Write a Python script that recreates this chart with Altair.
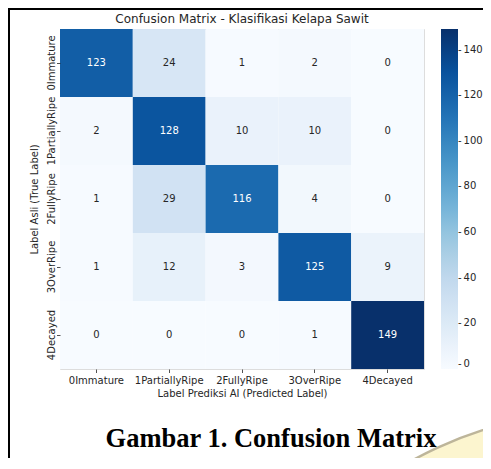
import altair as alt
import pandas as pd
import numpy as np

labels = ["0Immature", "1PartiallyRipe", "2FullyRipe", "3OverRipe", "4Decayed"]
row_0 = [123, 24, 1, 2, 0]
row_1 = [2, 128, 10, 10, 0]
row_2 = [1, 29, 116, 4, 0]
row_3 = [1, 12, 3, 125, 9]
row_4 = [0, 0, 0, 1, 149]
cbar_ticks = [0, 20, 40, 60, 80, 100, 120, 140]
blues = ["#f7fbff", "#deebf7", "#c6dbef", "#9ecae1", "#6baed6",
         "#4292c6", "#2171b5", "#08519c", "#08306b"]
title_text = "Confusion Matrix - Klasifikasi Kelapa Sawit"
caption_text = "Gambar 1. Confusion Matrix"

rows = [row_0, row_1, row_2, row_3, row_4]
records = []
for i, t in enumerate(labels):
    for j, p in enumerate(labels):
        records.append({"true": t, "pred": p, "value": rows[i][j]})
df = pd.DataFrame(records)

vmax = max(max(r) for r in rows)
domain = [float(v) for v in np.linspace(0, vmax, len(blues))]

W, H = 364, 340
PAD = {"left": 52, "top": 21, "right": 59, "bottom": 89}
TXT = "#262626"
FONT = "DejaVu Sans"

x_enc = alt.X("pred:N", sort=labels, title="Label Prediksi AI (Predicted Label)",
              axis=alt.Axis(labelAngle=0, domain=False, grid=False, tickSize=3.5,
                            tickColor=TXT, tickWidth=0.8, labelPadding=3,
                            labelFontSize=10, labelColor=TXT, labelFont=FONT,
                            titleFontSize=10, titleFontWeight="normal", titleColor=TXT,
                            titleFont=FONT, titlePadding=3))
y_enc = alt.Y("true:N", sort=labels, title="Label Asli (True Label)",
              axis=alt.Axis(labelAngle=270, labelAlign="center", labelBaseline="bottom",
                            domain=False, grid=False, tickSize=3.5,
                            tickColor=TXT, tickWidth=0.8, labelPadding=0.5,
                            labelFontSize=10, labelColor=TXT, labelFont=FONT,
                            titleFontSize=10, titleFontWeight="normal", titleColor=TXT,
                            titleFont=FONT, titlePadding=7))

base = alt.Chart(df)
heat = base.mark_rect().encode(
    x=x_enc,
    y=y_enc,
    color=alt.Color("value:Q",
                    scale=alt.Scale(domain=domain, range=blues, interpolate="rgb"),
                    legend=alt.Legend(orient="none", legendX=381, legendY=0,
                                      direction="vertical", gradientLength=H,
                                      gradientThickness=17, gradientStrokeWidth=0,
                                      values=cbar_ticks, title=None,
                                      labelFontSize=10, labelColor=TXT, labelFont=FONT,
                                      labelOffset=0, labelOverlap=False,
                                      labelBaseline="middle",
                                      labelExpr="'-\u2009' + datum.label")),
)
text = base.mark_text(fontSize=10, font=FONT).encode(
    x=alt.X("pred:N", sort=labels),
    y=alt.Y("true:N", sort=labels),
    text="value:Q",
    color=alt.condition(alt.datum.value > 80, alt.value("white"), alt.value(TXT)),
)

one = alt.Data(values=[{"k": 1}])
swoosh = alt.Chart(one).mark_arc(fill="#fcf5cf", stroke="#bdb59a", strokeWidth=2.5).encode(
    x=alt.value(540), y=alt.value(771), radius=alt.value(388),
    theta=alt.value(5.5), theta2=alt.value(6.2))
left_line = alt.Chart(one).mark_rule(color="black", strokeWidth=2).encode(
    x=alt.value(-51), y=alt.value(-21), y2=alt.value(H + 89))
top_line = alt.Chart(one).mark_rule(color="black", strokeWidth=2).encode(
    x=alt.value(-52), x2=alt.value(W + 59), y=alt.value(-20))
title = alt.Chart(alt.Data(values=[{"t": title_text}])).mark_text(
    font=FONT, fontSize=12, color=TXT, align="center", baseline="middle").encode(
    x=alt.value(W / 2), y=alt.value(-10), text="t:N")
caption = alt.Chart(alt.Data(values=[{"t": caption_text}])).mark_text(
    font="Liberation Serif", fontWeight="bold", fontSize=26.5, color="black",
    align="center", baseline="alphabetic").encode(
    x=alt.value(211), y=alt.value(418), text="t:N")

chart = alt.layer(swoosh, heat, text, left_line, top_line, title, caption).properties(
    width=W, height=H, padding=PAD,
    autosize=alt.AutoSizeParams(type="none"),
).configure_view(strokeWidth=0).configure(background="white")

chart.save("out.html", embed_options={"renderer": "svg", "actions": False})
